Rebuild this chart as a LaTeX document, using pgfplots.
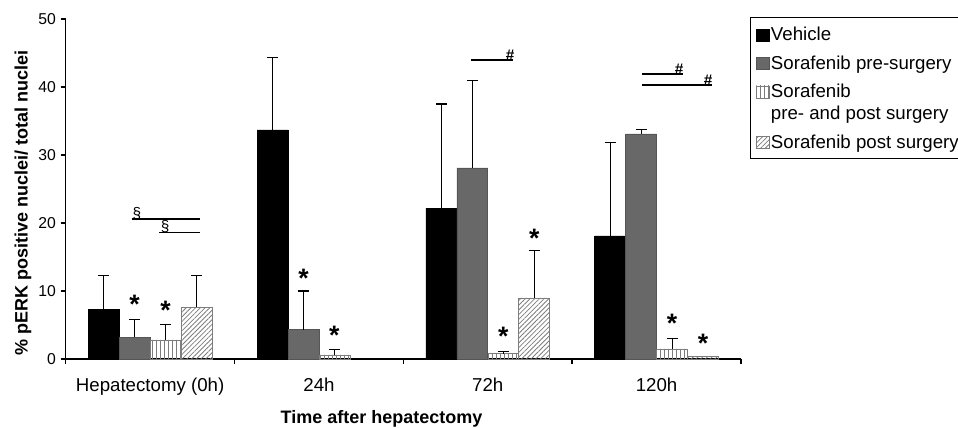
\documentclass[border=0pt]{standalone}
\usepackage{fontspec}
\setmainfont{Liberation Sans}
\usepackage{pgfplots}
\pgfplotsset{compat=1.18}
\usetikzlibrary{patterns.meta}
\definecolor{bargray}{RGB}{104,104,104}
\definecolor{bargrayedge}{RGB}{85,85,85}
\definecolor{patgray}{RGB}{125,125,125}
\newcommand{\starf}{\fontsize{20}{22}\selectfont\bfseries}
\newcommand{\sigf}{\fontsize{11.5}{12}\selectfont}
\pgfplotsset{raisedswatch/.style={legend image code/.code={\draw[##1, line width=0.5pt] (0pt,16.3pt) rectangle (9.5pt,25.3pt);}}}
\begin{document}
\begin{tikzpicture}
\begin{axis}[name=ax, scale only axis, width=506.5pt, height=255pt,
  clip=false,
  xmin=-0.5, xmax=3.5, ymin=0, ymax=50,
  axis lines*=left,
  axis line style={line width=1.1pt},
  xtick={-0.5,0.5,1.5,2.5,3.5}, xticklabels={},
  extra x ticks={0,1,2,3},
  extra x tick labels={Hepatectomy (0h),24h,72h,120h},
  extra x tick style={major tick length=0pt, tick label style={yshift=-11pt}},
  ytick={0,10,20,30,40,50},
  tick align=outside, major tick length=3.75pt,
  tick style={black, line width=1.1pt},
  /pgf/number format/assume math mode=true,
  y tick label style={font=\fontsize{11.8}{13}\selectfont},
  x tick label style={font=\fontsize{14}{16}\selectfont},
  every axis x label/.style={at={(axis description cs:0.4676,0)}, anchor=center, yshift=-45pt},
  every axis y label/.style={at={([xshift=-32pt]axis description cs:0,0.46)}, anchor=center, rotate=90},
  xlabel={Time after hepatectomy},
  ylabel={\% pERK positive nuclei/ total nuclei},
  label style={font=\fontsize{13.5}{16}\selectfont\bfseries},
  ybar, bar width=0.183,
  error bars/y dir=plus, error bars/y explicit,
  error bars/error bar style={black, line width=0.8pt},
  error bars/error mark options={black, mark size=4.1pt, line width=0.8pt, rotate=90},
  legend style={at={(1,1)}, anchor=north west, xshift=6.75pt, yshift=1.5pt,
    draw=black, line width=1pt, font=\fontsize{14}{16.3}\selectfont,
    cells={anchor=base west, align=left}, nodes={inner ysep=0.5pt, inner xsep=1.2pt},
    inner xsep=4pt, inner ysep=5.5pt, row sep=7.5pt},
  legend image code/.code={\draw[#1, line width=0.5pt] (0pt,0pt) rectangle (9.5pt,9pt);},
]
% Vehicle
\addplot[fill=black, draw=black, bar shift=-0.275] coordinates {
  (0,7.35) +- (0,4.95)
  (1,33.7) +- (0,10.6)
  (2,22.2) +- (0,15.3)
  (3,18.1) +- (0,13.7)
};
\addlegendentry{\strut Vehicle}
% Sorafenib pre-surgery
\addplot[fill=bargray, draw=bargrayedge, bar shift=-0.0917] coordinates {
  (0,3.2) +- (0,2.6)
  (1,4.3) +- (0,5.7)
  (2,28.1) +- (0,12.9)
  (3,33.1) +- (0,0.7)
};
\addlegendentry{\strut Sorafenib pre-surgery}
% Sorafenib pre- and post surgery
\addplot[draw=patgray, pattern={Lines[angle=90,distance=3pt,line width=0.55pt]}, pattern color=patgray, bar shift=0.0917, raisedswatch] coordinates {
  (0,2.8) +- (0,2.3)
  (1,0.6) +- (0,0.8)
  (2,0.8) +- (0,0.3)
  (3,1.5) +- (0,1.5)
};
\addlegendentry{\strut Sorafenib\\\strut pre- and post surgery}
% Sorafenib post surgery
\addplot[draw=patgray, pattern={Lines[angle=45,distance=2.5pt,line width=0.6pt]}, pattern color=patgray, bar shift=0.275] coordinates {
  (0,7.6) +- (0,4.7)
  (2,9.0) +- (0,7.0)
};
\addlegendentry{\strut Sorafenib post surgery}
\addplot[forget plot, draw=patgray, pattern={Lines[angle=45,distance=2.5pt,line width=0.6pt]}, pattern color=patgray, bar shift=0.275, error bars/y dir=none] coordinates {
  (3,0.35)
};
% significance stars
\node[anchor=north, inner sep=0pt, font=\starf] at (axis cs:-0.0917,9.5) {*};
\node[anchor=north, inner sep=0pt, font=\starf] at (axis cs:0.0917,8.5) {*};
\node[anchor=north, inner sep=0pt, font=\starf] at (axis cs:0.9083,13.2) {*};
\node[anchor=north, inner sep=0pt, font=\starf] at (axis cs:1.0917,4.8) {*};
\node[anchor=north, inner sep=0pt, font=\starf] at (axis cs:2.0917,4.7) {*};
\node[anchor=north, inner sep=0pt, font=\starf] at (axis cs:2.275,19.2) {*};
\node[anchor=north, inner sep=0pt, font=\starf] at (axis cs:3.0917,6.6) {*};
\node[anchor=north, inner sep=0pt, font=\starf] at (axis cs:3.275,3.7) {*};
% comparison lines
\draw[line width=1.1pt] (axis cs:-0.109,20.6) -- (axis cs:0.296,20.6);
\node[anchor=south, inner sep=0pt, font=\sigf] at (axis cs:-0.078,20.5) {§};
\draw[line width=1.1pt] (axis cs:0.053,18.6) -- (axis cs:0.296,18.6);
\node[anchor=south, inner sep=0pt, font=\sigf] at (axis cs:0.089,18.5) {§};
\draw[line width=1.1pt] (axis cs:1.901,44.0) -- (axis cs:2.150,44.0);
\node[anchor=south, inner sep=0pt, font=\sigf\bfseries] at (axis cs:2.132,43.9) {\#};
\draw[line width=1.1pt] (axis cs:2.912,41.9) -- (axis cs:3.159,41.9);
\node[anchor=south, inner sep=0pt, font=\sigf\bfseries] at (axis cs:3.133,41.8) {\#};
\draw[line width=1.1pt] (axis cs:2.912,40.3) -- (axis cs:3.327,40.3);
\node[anchor=south, inner sep=0pt, font=\sigf\bfseries] at (axis cs:3.305,40.2) {\#};
\end{axis}
\pgfresetboundingbox
\path (ax.south west) ++(-49.275pt,-51.75pt) rectangle ++(718.5pt,321pt);
\end{tikzpicture}
\end{document}
